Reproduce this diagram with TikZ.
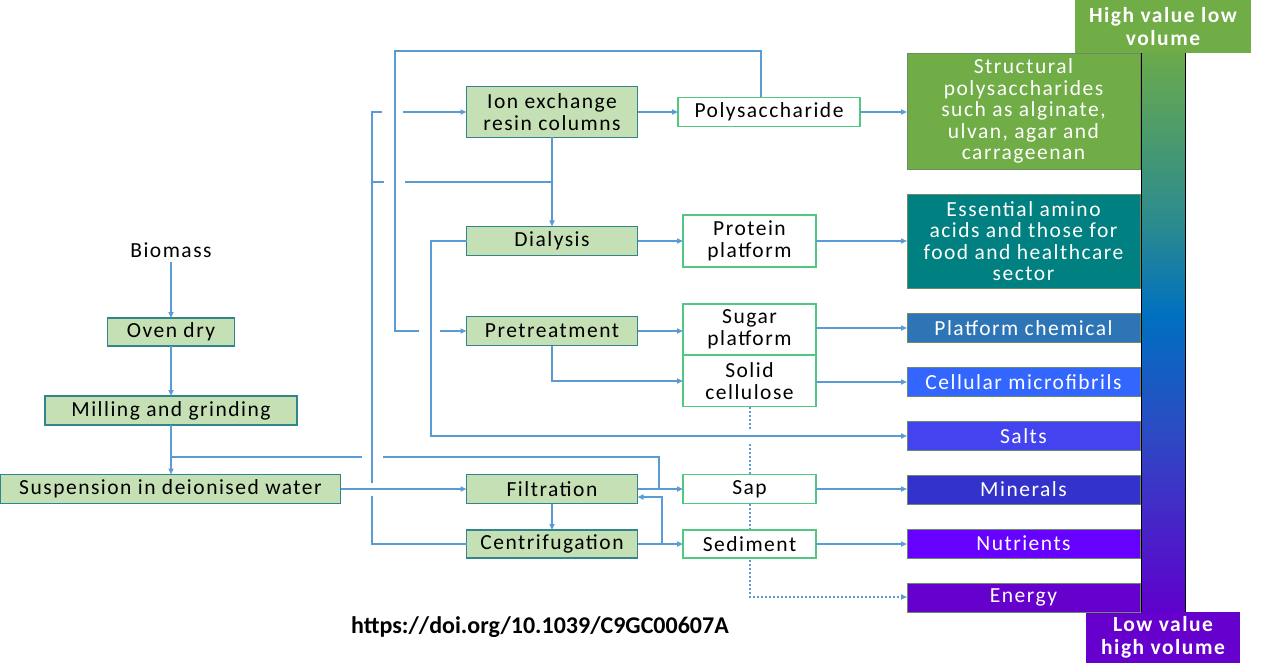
\documentclass[tikz,border=0pt]{standalone}
\usepackage{fontspec}
\setmainfont{Carlito}[LetterSpace=7]
\newfontfamily\plainfont{Carlito}
\usetikzlibrary{arrows.meta}
\definecolor{lc}{RGB}{91,155,213}
\definecolor{pfill}{RGB}{197,224,180}
\definecolor{pdraw}{RGB}{49,133,140}
\definecolor{odraw}{RGB}{80,200,130}
\definecolor{rdraw}{RGB}{110,140,100}
\definecolor{rA}{RGB}{112,173,71}
\definecolor{rB}{RGB}{0,128,128}
\definecolor{rC}{RGB}{46,117,182}
\definecolor{rD}{RGB}{51,102,255}
\definecolor{rE}{RGB}{67,67,240}
\definecolor{rF}{RGB}{51,51,204}
\definecolor{rG}{RGB}{102,0,255}
\definecolor{rH}{RGB}{102,0,204}
\definecolor{gTop}{RGB}{106,170,76}
\definecolor{gTeal}{RGB}{42,138,144}
\definecolor{gBlue}{RGB}{0,112,192}
\definecolor{gInd}{RGB}{46,72,196}
\definecolor{gBot}{RGB}{96,0,204}
\pgfdeclareverticalshading{valbar}{100bp}{color(0bp)=(gBot); color(25bp)=(gBot); color(40.5bp)=(gInd); color(51.5bp)=(gBlue); color(59.5bp)=(gTeal); color(75bp)=(gTop); color(100bp)=(gTop)}
\tikzset{
  txt/.style={font=\fontsize{21.5}{21.5}\selectfont, align=center, inner sep=0pt, outer sep=0pt},
  pbox/.style={txt, draw=pdraw, fill=pfill, line width=1.2pt},
  obox/.style={txt, draw=odraw, fill=white, line width=1.2pt},
  rbox/.style={txt, draw=rdraw, line width=0.8pt, text=white, minimum width=233pt},
  hbox/.style={txt, font=\fontsize{21.5}{23}\selectfont\bfseries, text=white},
  ln/.style={draw=lc, line width=1.5pt},
  arr/.style={ln, -{Triangle[length=6pt,width=5pt]}},
  dotln/.style={draw=lc, line width=2pt, dash pattern=on 2pt off 2pt, -{Triangle[length=6pt,width=5pt]}}
}
\begin{document}
\begin{tikzpicture}[x=1pt,y=-1pt]
\useasboundingbox (0,0) rectangle (1261,671);
\fill[white] (0,0) rectangle (1261,671);

% gradient bar
\shade[shading=valbar] (1141,53) rectangle (1185,612);
\draw[draw={RGB:red,120;green,140;blue,170}, line width=0.8pt] (1141,45) rectangle (1185,612);

% header boxes
\node[hbox, fill=rA, minimum width=176pt, minimum height=53pt] (hv) at (1163,26.5) {High value low\\volume};
\node[hbox, fill=rH, minimum width=154pt, minimum height=51pt] (lv) at (1163,637.5) {Low value\\high volume};

% process boxes
\node[txt] (bio) at (171,250) {Biomass};
\node[pbox, minimum width=127pt, minimum height=28pt] (oven) at (171,332) {Oven dry};
\node[pbox, minimum width=252pt, minimum height=29pt] (mill) at (171,410.5) {Milling and grinding};
\node[pbox, minimum width=340pt, minimum height=29pt] (susp) at (170.5,489) {Suspension in deionised water};
\node[pbox, minimum width=171pt, minimum height=51pt] (ion) at (552,112) {Ion exchange\\resin columns};
\node[pbox, minimum width=171pt, minimum height=29pt] (dial) at (552,241) {Dialysis};
\node[pbox, minimum width=171pt, minimum height=29pt] (pret) at (552,331) {Pretreatment};
\node[pbox, minimum width=171pt, minimum height=29pt] (filt) at (552,489) {Filtration};
\node[pbox, minimum width=171pt, minimum height=28pt] (cent) at (552,544) {Centrifugation};

% dotted line (behind product boxes)
\coordinate (dv) at (750,597);
\draw[dotln] (dv |- 0,406.5) -- (750,430) (750,444) -- (dv) -- (dv -| 907,0);

% product boxes
\node[obox, minimum width=182pt, minimum height=29pt] (poly) at (769,112) {Polysaccharide};
\node[obox, minimum width=133pt, minimum height=52pt] (prot) at (749.5,241) {Protein\\platform};
\node[obox, minimum width=133pt, minimum height=51pt] (sugar) at (749.5,329.5) {Sugar\\platform};
\node[obox, minimum width=133pt, minimum height=51pt] (cell) at (749.5,381) {Solid\\cellulose};
\node[obox, minimum width=133pt, minimum height=29pt] (sap) at (749.5,489) {Sap};
\node[obox, minimum width=133pt, minimum height=28pt] (sed) at (749.5,544) {Sediment};

% result boxes
\node[rbox, fill=rA, minimum height=116pt] (r1) at (1023.5,111) {Structural\\polysaccharides\\such as alginate,\\ulvan, agar and\\carrageenan};
\node[rbox, fill=rB, minimum height=94pt] (r2) at (1023.5,241) {Essential amino\\acids and those for\\food and healthcare\\sector};
\node[rbox, fill=rC, minimum height=29pt] (r3) at (1023.5,328) {Platform chemical};
\node[rbox, fill=rD, minimum height=29pt] (r4) at (1023.5,382) {Cellular microfibrils};
\node[rbox, fill=rE, minimum height=29pt] (r5) at (1023.5,436) {Salts};
\node[rbox, fill=rF, minimum height=29pt] (r6) at (1023.5,489.5) {Minerals};
\node[rbox, fill=rG, minimum height=29pt] (r7) at (1023.5,543.5) {Nutrients};
\node[rbox, fill=rH, minimum height=29pt] (r8) at (1023.5,597.5) {Energy};

\node[font=\plainfont\fontsize{24}{26}\selectfont\bfseries, inner sep=0pt] (doi) at (540,627) {https://doi.org/10.1039/C9GC00607A};

% coordinates
\coordinate (t1) at (761,51);
\coordinate (jc) at (662,544);
\coordinate (jf) at (662,497);
\coordinate (jm) at (659,457);

% left chain
\draw[arr] (bio.south) ++(0,5) -- (oven.north);
\draw[arr] (oven.south) -- (mill.north);
\draw[arr] (mill.south) -- (mill.south |- susp.north);
\draw[ln] (mill.south |- jm) -- (362,457) (383,457) -- (jm) -- (jm |- filt.east);
\draw[arr] (susp.east) -- (filt.west);
\draw[arr] (filt.east) -- (sap.west);
\draw[arr] (filt.south) -- (cent.north);
\draw[arr] (cent.east) -- (sed.west);
\draw[arr] (jc) -- (jf) -- (jf -| filt.east);

% recycle loops
\draw[arr] (cent.west) -| (372,496) (372,483) -- (372,112) -- (382,112) (403,112) -- (ion.west);
\draw[ln] (372,182) -- (384,182) (405,182) -- (552,182);
\draw[arr] (ion.south) -- (dial.north);
\draw[arr] (ion.east) -- (poly.west);
\draw[arr] (poly.north -| t1) -- (t1) -| (395,331) -- (419,331) (440,331) -- (pret.west);
\draw[arr] (dial.west) -- (431,241) |- (r5.west);
\draw[arr] (dial.east) -- (dial.east -| prot.west);
\draw[arr] (pret.east) -- (pret.east -| sugar.west);
\draw[arr] (pret.south) |- (cell.west);

% outputs
\draw[arr] (poly.east) -- (poly.east -| r1.west);
\draw[arr] (prot.east) -- (prot.east -| r2.west);
\draw[arr] (r3.west -| sugar.east) -- (r3.west);
\draw[arr] (r4.west -| cell.east) -- (r4.west);
\draw[arr] (sap.east) -- (sap.east -| r6.west);
\draw[arr] (sed.east) -- (sed.east -| r7.west);
\end{tikzpicture}
\end{document}
